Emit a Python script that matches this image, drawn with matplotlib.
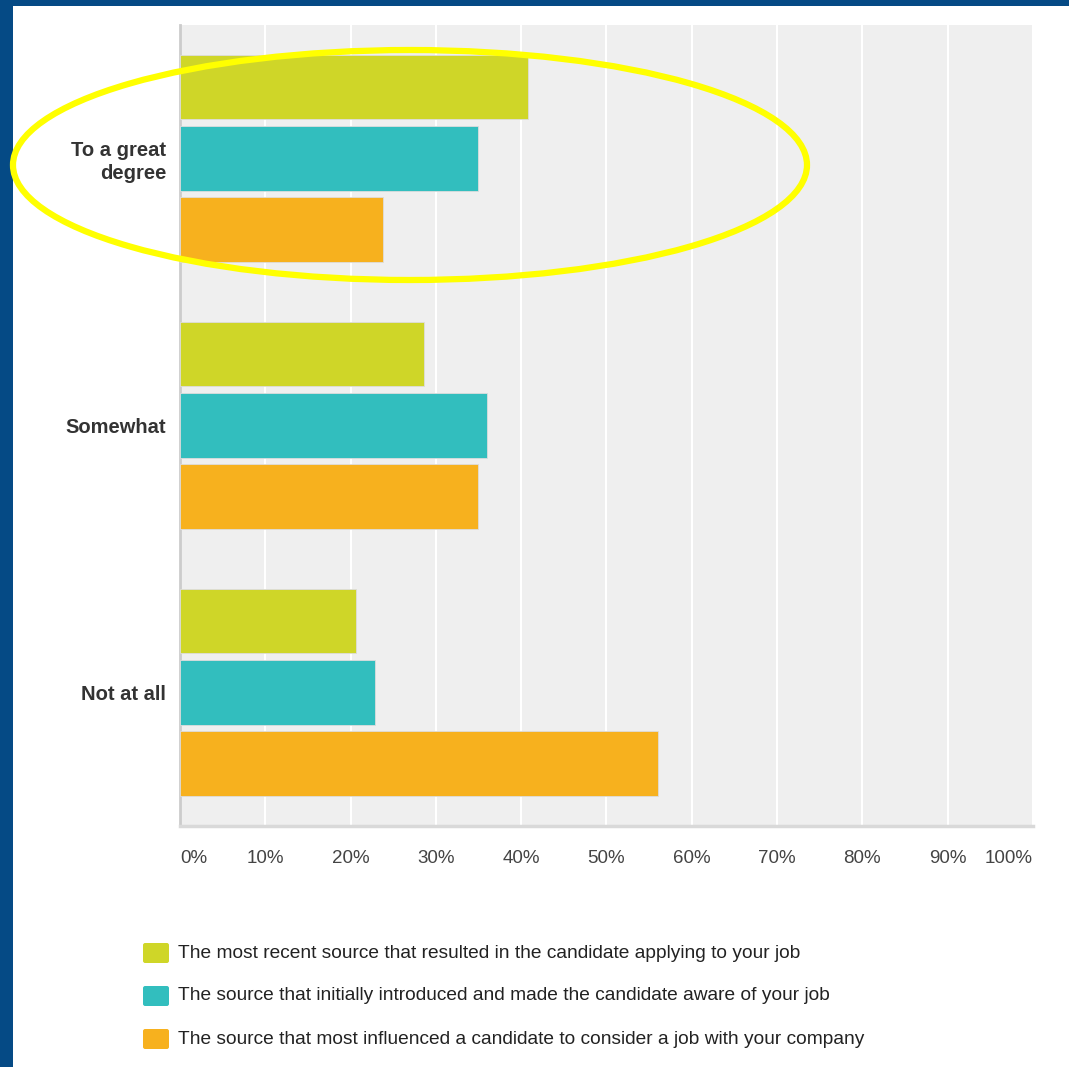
import numpy as np
import matplotlib.pyplot as plt
from matplotlib.patches import Ellipse, Rectangle, FancyBboxPatch

plt.rcParams['font.family'] = ['Liberation Sans', 'DejaVu Sans']

categories = ['To a great\ndegree', 'Somewhat', 'Not at all']
series_names = [
    'The most recent source that resulted in the candidate applying to your job',
    'The source that initially introduced and made the candidate aware of your job',
    'The source that most influenced a candidate to consider a job with your company',
]
most_recent = [40.8, 28.6, 20.6]
initially_aware = [34.9, 36.0, 22.9]
most_influenced = [23.8, 34.9, 56.0]
tick_values = [0, 10, 20, 30, 40, 50, 60, 70, 80, 90, 100]
tick_labels = [f'{v}%' for v in tick_values]

colors = ['#CFD628', '#32BEBE', '#F7B11E']


def main():
    fig = plt.figure(figsize=(10.69, 10.67), dpi=100)
    fig.patch.set_facecolor('white')

    # blue frame on top and left
    fig.patches.append(Rectangle((0, 1 - 6 / 1067), 1, 6 / 1067, transform=fig.transFigure,
                                 facecolor='#054A85', edgecolor='none', zorder=0))
    fig.patches.append(Rectangle((0, 0), 13 / 1069, 1, transform=fig.transFigure,
                                 facecolor='#054A85', edgecolor='none', zorder=0))

    ax = fig.add_axes([0.1684, 0.2259, 0.7979, 0.7507])
    ax.set_facecolor('#EFEFEF')

    y = np.arange(len(categories))
    step = 0.266
    h = 0.24
    all_series = [most_recent, initially_aware, most_influenced]
    for i, vals in enumerate(all_series):
        ax.barh(y + (i - 1) * step, vals, height=h, color=colors[i], zorder=3,
                edgecolor='#dddddd', linewidth=0.6)

    ax.set_xlim(0, 100)
    ax.set_ylim(2.5, -0.5)
    ax.set_xticks(tick_values)
    ax.set_xticklabels(tick_labels)
    for lbl, v in zip(ax.get_xticklabels(), tick_values):
        if v == 0:
            lbl.set_ha('left')
        elif v == 100:
            lbl.set_ha('right')
    ax.tick_params(axis='x', length=0, pad=17, labelsize=13.5, labelcolor='#444444')
    ax.grid(axis='x', color='white', linewidth=1.5, zorder=1)

    ax.set_yticks(y)
    ax.set_yticklabels(categories, fontweight='bold', fontsize=14.5, color='#333333',
                       linespacing=1.25)
    ax.tick_params(axis='y', length=0, pad=10)

    for side in ['top', 'right']:
        ax.spines[side].set_visible(False)
    ax.spines['left'].set_color('#cccccc')
    ax.spines['left'].set_linewidth(2)
    ax.spines['bottom'].set_color('#d9d9d9')
    ax.spines['bottom'].set_linewidth(2.5)

    # legend drawn by hand
    rows_y = [953, 996, 1039]
    for name, c, py in zip(series_names, colors, rows_y):
        fy = 1 - py / 1067
        fig.patches.append(FancyBboxPatch((143 / 1069, fy - 10 / 1067), 26 / 1069, 20 / 1067,
                                          boxstyle='round,pad=0,rounding_size=0.002',
                                          transform=fig.transFigure, facecolor=c,
                                          edgecolor='none'))
        fig.text(178 / 1069, fy, name, ha='left', va='center', fontsize=13.8, color='#222222')

    # yellow highlight ellipse
    fig.patches.append(Ellipse((410 / 1069, 1 - 165 / 1067), 794 / 1069, 230 / 1067,
                               transform=fig.transFigure, facecolor='none',
                               edgecolor='#FFFF00', linewidth=4.5, zorder=10))

    fig.savefig('out.png', dpi=100)


if __name__ == "__main__":
    main()
